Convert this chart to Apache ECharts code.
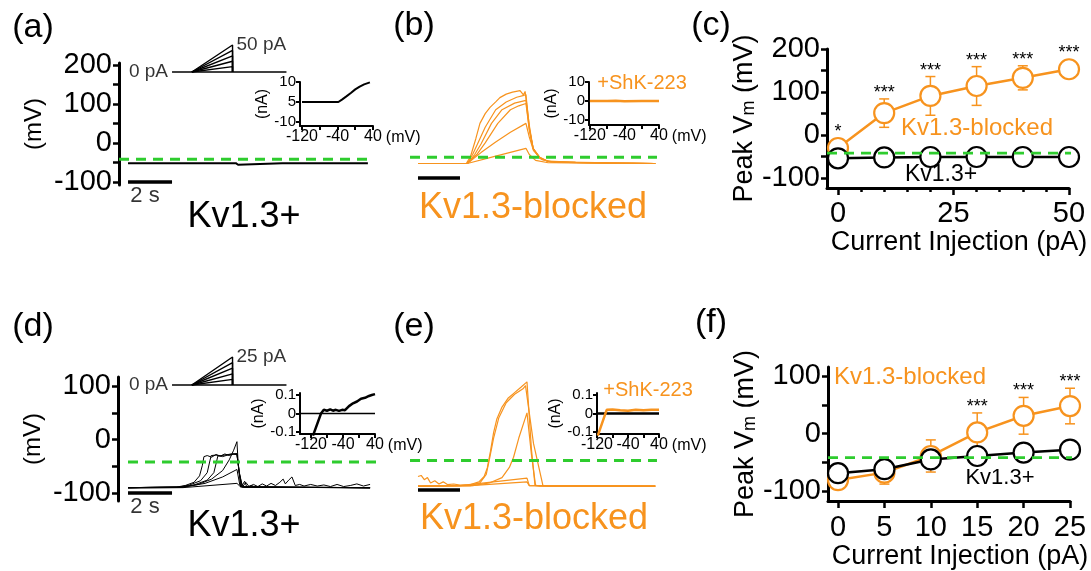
<!DOCTYPE html>
<html><head><meta charset="utf-8">
<script src="https://cdn.jsdelivr.net/npm/echarts@6/dist/echarts.min.js"></script>
<style>html,body{margin:0;padding:0;background:#fff}#chart{width:1091px;height:571px}</style>
</head><body><div id="chart"></div>
<script>
// ================= DATA =================
const thresholdMv = -42;
// stimulus schematic (time in s, amplitude in pA)
const stimBaseline = [2.0, 7.2];
const stimRamp = [2.9, 4.75];
const aStimAmps = [10, 20, 30, 40, 50];
const dStimAmps = [5, 10, 15, 20, 25];
const scaleBarS = [0, 2];

// (a) Kv1.3+ voltage trace [s, mV]
const aTrace = [[0,-52],[1.5,-52],[3,-52],[4.9,-52],[5.0,-56],[5.05,-52],[7,-52],[9,-52],[10.9,-52]];
// (a) inset I-V [mV, nA]
const aIV = [[-120,0],[-80,0],[-38,0],[-30,1.2],[-20,2.8],[-10,4.5],[0,6.3],[10,7.7],[20,8.8],[33,9.8]];
const aInsetYTicks = [-10, 0, 10];
const aInsetYTickLabels = ['-10', '5', '10'];

// (b) Kv1.3-blocked traces [s, mV]
const bTrace1 = [[0,-58],[2.3,-58],[2.5,-40],[2.75,5],[2.95,45],[3.2,70],[3.43,86],[3.7,100],[3.9,111],[4.2,120],[4.5,125],[4.86,129],[4.95,126],[5.02,118],[5.1,127],[5.16,124],[5.3,40],[5.48,-19],[5.8,-42],[6.2,-52],[7.5,-55],[9,-57],[11.3,-58]];
const bTrace2 = [[0,-58],[2.35,-58],[2.6,-35],[2.8,-12],[3.2,35],[3.7,80],[4.2,100],[4.7,112],[5.0,116],[5.14,119],[5.3,35],[5.48,-19],[5.8,-43],[6.2,-53],[7.5,-55],[9,-57],[11.3,-58]];
const bTrace3 = [[0,-58],[2.35,-58],[2.7,-35],[3.0,-8],[3.5,45],[4.0,80],[4.6,97],[5.14,104],[5.3,30],[5.48,-20],[5.8,-44],[6.2,-53],[7.5,-56],[11.3,-58]];
const bTrace4 = [[0,-58],[2.35,-58],[2.8,-35],[3.2,-5],[3.8,45],[4.4,80],[4.8,90],[5.14,96],[5.3,28],[5.5,-22],[5.8,-45],[6.3,-54],[11.3,-58]];
const bTrace5 = [[0,-58],[2.35,-58],[3.0,-30],[3.7,-3],[4.4,22],[5.14,45],[5.3,10],[5.5,-25],[5.9,-48],[6.5,-55],[11.3,-58]];
const bTrace6 = [[0,-58],[2.35,-58],[3.7,-39],[5.14,-19],[5.3,-35],[5.6,-50],[6.2,-56],[11.3,-58]];
const bIV = [[-120,0],[-80,0],[-60,0.1],[-40,-0.1],[0,0],[40,0]];

// (c) Peak Vm vs current injection
const cCurrents = [0, 10, 20, 30, 40, 50];
const cBlockedMean = [-30, 51, 91, 114, 133, 153];
const cBlockedErr = [8, 33, 45, 45, 28, 8];
const cPlusMean = [-54, -52, -51, -51, -51, -51];
const cPlusErr = [5, 4, 4, 4, 4, 4];
const cStars = ['*', '***', '***', '***', '***', '***'];
const cXTickLabels = [0, 25, 50];
const cXMinorTicks = [5, 10, 15, 20, 30, 35, 40, 45];
const cYTicks = [-100, -50, 0, 50, 100, 150, 200];
const cYTickLabels = [-100, 0, 100, 200];

// (d) Kv1.3+ traces [s, mV]
const dTrace1 = [[0,-90],[2.2,-89],[2.6,-86],[3.0,-80],[3.25,-68],[3.38,-48],[3.45,-32],[3.6,-30],[3.8,-33],[4.0,-28],[4.2,-31],[4.4,-27],[4.6,-30],[4.8,-27],[4.95,-28],[5.05,-60],[5.15,-88],[5.3,-78],[5.4,-89],[5.6,-86],[5.8,-89],[11,-90]];
const dTrace2 = [[0,-90],[2.3,-89],[2.8,-85],[3.3,-77],[3.6,-62],[3.72,-40],[3.78,-30],[4.0,-29],[4.3,-32],[4.6,-28],[4.95,-26],[5.05,-62],[5.2,-89],[11,-90]];
const dTrace3 = [[0,-90],[2.4,-89],[3.0,-85],[3.6,-76],[3.9,-62],[4.02,-42],[4.08,-31],[4.4,-29],[4.7,-27],[4.95,-28],[5.05,-60],[5.2,-89],[11,-90]];
const dTrace4 = [[0,-90],[2.5,-89],[3.2,-84],[3.8,-74],[4.3,-58],[4.6,-38],[4.8,-20],[4.95,-4],[5.0,-40],[5.12,-89],[11,-90]];
const dTrace5 = [[0,-90],[2.5,-89],[3.5,-82],[4.3,-70],[4.95,-56],[5.08,-85],[5.3,-89],[11,-90]];
const dTrace6 = [[0,-91],[2.5,-90],[4.95,-82],[5.1,-88],[11,-91]];
const dTraceNoise = [[5.2,-89],[5.35,-80],[5.5,-88],[5.7,-84],[5.9,-88],[6.1,-83],[6.3,-87],[6.5,-82],[6.7,-86],[6.9,-80],[7.05,-74],[7.15,-83],[7.3,-76],[7.45,-70],[7.6,-86],[7.8,-84],[8.0,-87],[8.3,-84],[8.6,-87],[8.9,-85],[9.2,-88],[9.5,-84],[9.8,-88],[10.1,-86],[10.4,-83],[10.7,-87],[11,-84]];
const dIV = [[-115,-0.12],[-95,0],[-88,0.02],[-80,0.015],[-72,0.022],[-65,0.015],[-58,0.02],[-50,0.014],[-42,0.02],[-35,0.018],[-25,0.04],[-15,0.055],[-5,0.065],[5,0.08],[15,0.085],[25,0.095],[32,0.1],[40,0.105]];
const dZero = [[-147,0],[40,0]];

// (e) Kv1.3-blocked traces [s, mV]
const eTrace1 = [[0,-72],[0.15,-70],[0.3,-78],[0.45,-74],[0.6,-84],[0.8,-80],[1.0,-86],[1.2,-82],[1.4,-87],[1.7,-86],[2.0,-88],[2.5,-87],[2.9,-82],[3.15,-72],[3.3,-56],[3.45,-25],[3.6,10],[3.75,35],[4.0,58],[4.3,75],[4.6,85],[4.9,95],[5.19,105],[5.4,-20],[5.57,-88],[5.8,-90],[11.3,-90]];
const eTrace2 = [[0,-90],[2.5,-89],[2.95,-84],[3.25,-68],[3.4,-40],[3.6,0],[3.85,38],[4.2,66],[4.6,82],[5.0,92],[5.12,98],[5.5,-10],[5.95,-89],[6.2,-90],[11.3,-90]];
const eTrace3 = [[0,-90],[2.6,-89],[3.4,-84],[4.0,-74],[4.35,-55],[4.55,-36],[4.8,0],[5.19,47],[5.4,-30],[5.6,-89],[11.3,-90]];
const eTrace4 = [[0,-90],[2.0,-89],[5.19,-75],[5.3,-89],[11.3,-90]];
const eTrace5 = [[0,-90],[2.5,-89],[5.19,-82],[5.3,-89],[11.3,-90]];
const eIV = [[-118,-0.12],[-95,0.02],[-80,0.022],[-60,0.018],[-40,0.015],[-20,0.02],[0,0.018],[20,0.02],[40,0.02]];
const eZero = [[-120,0],[40,0]];

// (f) Peak Vm vs current injection
const fCurrents = [0, 5, 10, 15, 20, 25];
const fBlockedMean = [-81, -68, -39, 2, 31, 48];
const fBlockedErr = [15, 20, 28, 34, 32, 31];
const fPlusMean = [-69, -62, -45, -39, -33, -28];
const fPlusErr = [6, 6, 5, 4, 4, 4];
const fStars = ['', '', '', '***', '***', '***'];
const fYTicks = [-100, -50, 0, 50, 100];
const fYTickLabels = [-100, 0, 100];

// ================= STYLE / BUILD =================
const FONT = '"Liberation Sans", Arial, Helvetica, sans-serif';
const ORANGE = '#F7931E';
const GREEN = '#2ECC2E';
const BLACK = '#000';
const TICKFS = 29;

function hiddenAxis(gridIndex, min, max) {
  return {type: 'value', gridIndex, min, max, show: false, splitLine: {show: false}};
}
function visAxis(o) {
  return {
    type: 'value', gridIndex: o.grid, min: o.min, max: o.max, position: o.position,
    axisLine: {show: o.line !== false, onZero: false, lineStyle: {color: BLACK, width: o.lw || 3}},
    axisTick: {show: true, customValues: o.ticks, length: o.tickLen || 6, lineStyle: {color: BLACK, width: o.tw || 2.5}},
    axisLabel: o.labels ? {show: true, customValues: o.labels, fontSize: o.fs || TICKFS, color: BLACK, fontFamily: FONT, margin: o.margin || 7, formatter: o.formatter} : {show: false},
    splitLine: {show: false},
    name: o.name || '', nameLocation: o.nameLocation || 'middle', nameGap: o.nameGap || 0, nameRotate: o.nameRotate,
    nameTextStyle: Object.assign({fontSize: 24, color: BLACK, fontFamily: FONT}, o.nameStyle || {})
  };
}
function trace(data, xi, yi, color, width, z) {
  return {type: 'line', data, xAxisIndex: xi, yAxisIndex: yi, symbol: 'none', silent: true, clip: false,
    lineStyle: {color, width}, z: z || 2, animation: false};
}
function thresholdLine(x0, x1, xi, yi) {
  return {type: 'line', data: [[x0, thresholdMv], [x1, thresholdMv]], xAxisIndex: xi, yAxisIndex: yi, symbol: 'none', clip: false, silent: true,
    lineStyle: {color: GREEN, width: 2.8, type: [10, 7]}, z: 6};
}
function textPoint(x, y, text, xi, yi, pos, fs, offset) {
  return {type: 'scatter', xAxisIndex: xi, yAxisIndex: yi, symbolSize: 0, silent: true, z: 5,
    data: [[x, y]], label: {show: true, formatter: text, position: pos, distance: 3, offset: offset || [0, 0], fontSize: fs, color: BLACK, fontFamily: FONT}};
}
function stimSeries(amps, xi, yi, topText) {
  const out = [trace([[stimBaseline[0], 0], [stimBaseline[1], 0]], xi, yi, BLACK, 1.6)];
  amps.forEach(a => out.push(trace([[stimRamp[0], 0], [stimRamp[1], a], [stimRamp[1], 0]], xi, yi, BLACK, 1.4)));
  out.push(textPoint(stimBaseline[0], 0, '0 pA', xi, yi, 'left', 19, [-1, 0]));
  out.push(textPoint(stimRamp[1], amps[amps.length - 1], topText, xi, yi, 'right', 19, [1, 0]));
  return out;
}
function errorBars(xs, means, errs, color, xi, yi) {
  return {type: 'custom', xAxisIndex: xi, yAxisIndex: yi, z: 1, silent: true,
    data: xs.map((x, i) => [x, means[i], errs[i]]),
    renderItem: function (params, api) {
      const x = api.value(0), m = api.value(1), e = api.value(2);
      const t = api.coord([x, m + e]), b = api.coord([x, m - e]);
      const cap = 5, st = {stroke: color, lineWidth: 1.5};
      return {type: 'group', children: [
        {type: 'line', shape: {x1: t[0], y1: t[1], x2: b[0], y2: b[1]}, style: st},
        {type: 'line', shape: {x1: t[0] - cap, y1: t[1], x2: t[0] + cap, y2: t[1]}, style: st},
        {type: 'line', shape: {x1: b[0] - cap, y1: b[1], x2: b[0] + cap, y2: b[1]}, style: st}
      ]};
    }};
}
function starSeries(xs, means, errs, stars, xi, yi) {
  return {type: 'custom', xAxisIndex: xi, yAxisIndex: yi, z: 4, silent: true,
    data: xs.map((x, i) => [x, means[i], errs[i]]),
    renderItem: function (params, api) {
      const x = api.value(0), m = api.value(1), e = api.value(2);
      const t = api.coord([x, m + e]), c = api.coord([x, m]);
      const anchor = Math.min(t[1], c[1] - 10);
      return {type: 'text', x: t[0], y: anchor + 3, style: {text: stars[params.dataIndex], textAlign: 'center', textVerticalAlign: 'bottom', fontSize: 18, fontFamily: FONT, fill: BLACK}};
    }};
}
function meanLine(xs, means, color, xi, yi, z) {
  return {type: 'line', xAxisIndex: xi, yAxisIndex: yi, z, silent: true,
    data: xs.map((x, i) => [x, means[i]]), symbol: 'circle', symbolSize: 20, showSymbol: true,
    lineStyle: {color, width: 2.5}, itemStyle: {color: '#fff', borderColor: color, borderWidth: 2.2}};
}
function gtext(text, x, y, size, color, extra) {
  return Object.assign({type: 'text', x, y, silent: true, style: {text, fontSize: size, fontFamily: FONT, fill: color || BLACK, textAlign: 'center', textVerticalAlign: 'middle'}}, extra || {});
}

const grids = [
  {left: 119, top: 63, width: 259, height: 122},   // 0 a main
  {left: 119, top: 45, width: 259, height: 27},    // 1 a stim
  {left: 300, top: 82, width: 73, height: 44},     // 2 a inset
  {left: 408, top: 61, width: 252, height: 122},   // 3 b main
  {left: 589, top: 82, width: 70, height: 43},     // 4 b inset
  {left: 827, top: 49, width: 242, height: 139},   // 5 c
  {left: 118, top: 377, width: 260, height: 124},  // 6 d main
  {left: 118, top: 357, width: 260, height: 28},   // 7 d stim
  {left: 300, top: 393, width: 75, height: 41},    // 8 d inset
  {left: 408, top: 375.5, width: 252, height: 124},// 9 e main
  {left: 597, top: 393, width: 62, height: 41},    // 10 e inset
  {left: 828, top: 367, width: 242, height: 139}   // 11 f
];

const insetX = (grid, min, ticks) => visAxis({grid, min, max: 40, ticks, labels: [-120, -40, 40], fs: 16, margin: 3, lw: 2, tw: 2, tickLen: 4,
  position: 'bottom', name: '(mV)', nameLocation: 'end', nameGap: 3, nameStyle: {fontSize: 16, verticalAlign: 'top', padding: [4, 0, 0, 0]}});

const xAxes = [
  hiddenAxis(0, -0.41, 11.36),                                   // 0
  hiddenAxis(1, -0.41, 11.36),                                   // 1
  insetX(2, -124.5, [-120, -80, -40, 0, 40]),                    // 2
  hiddenAxis(3, -0.476, 11.524),                                 // 3
  insetX(4, -122, [-120, -80, -40, 0, 40]),                      // 4
  visAxis({grid: 5, min: -2.38, max: 50, position: 'bottom', ticks: cXTickLabels, labels: cXTickLabels, tickLen: 7, margin: 11,
    name: 'Current Injection (pA)', nameGap: 36, nameStyle: {fontSize: 27, padding: [0, 0, 0, 22]}}), // 5
  visAxis({grid: 5, min: -2.38, max: 50, position: 'bottom', ticks: cXMinorTicks, line: false, tickLen: 4}), // 6
  hiddenAxis(6, -0.455, 11.36),                                  // 7
  hiddenAxis(7, -0.455, 11.36),                                  // 8
  insetX(8, -147.5, [-120, -80, -40, 0, 40]),                    // 9
  hiddenAxis(9, -0.476, 11.524),                                 // 10
  insetX(10, -120, [-120, -80, -40, 0, 40]),                     // 11
  visAxis({grid: 11, min: -1.08, max: 25, position: 'bottom', ticks: fCurrents, labels: fCurrents, tickLen: 7, margin: 12,
    name: 'Current Injection (pA)', nameGap: 37, nameStyle: {fontSize: 27, padding: [0, 0, 0, 22]}})   // 12
];

const peakName = '{a|Peak V}{s|m}{a| (mV)}';
const peakRich = {a: {fontSize: 27, fontFamily: FONT, color: BLACK}, s: {fontSize: 18, fontFamily: FONT, color: BLACK, padding: [8, 0, 0, 0]}};

const yAxes = [
  visAxis({grid: 0, min: -108, max: 205, position: 'left', ticks: cYTicks, labels: cYTickLabels, name: '(mV)', nameRotate: 90, nameGap: 73}), // 0
  hiddenAxis(1, 0, 50),                                                                         // 1
  visAxis({grid: 2, min: -12, max: 10, position: 'left', ticks: aInsetYTicks, labels: aInsetYTicks, fs: 15, margin: 4, lw: 2, tw: 2, tickLen: 4,
    formatter: v => aInsetYTickLabels[aInsetYTicks.indexOf(v)], name: '(nA)', nameRotate: 90, nameGap: 21, nameStyle: {fontSize: 16}}), // 2
  hiddenAxis(3, -108, 205),                                                                     // 3
  visAxis({grid: 4, min: -12.6, max: 10, position: 'left', ticks: [-10, 0, 10], labels: [-10, 0, 10], fs: 15, margin: 4, lw: 2, tw: 2, tickLen: 4,
    name: '(nA)', nameRotate: 90, nameGap: 21, nameStyle: {fontSize: 16}}),                      // 4
  visAxis({grid: 5, min: -123, max: 200, position: 'left', ticks: cYTicks, labels: cYTickLabels, name: peakName, nameRotate: 90, nameGap: 55,
    nameStyle: {rich: peakRich}}),                                                              // 5
  visAxis({grid: 6, min: -115, max: 117, position: 'left', ticks: fYTicks, labels: fYTickLabels, name: '(mV)', nameRotate: 90, nameGap: 73}), // 6
  hiddenAxis(7, 0, 25),                                                                         // 7
  visAxis({grid: 8, min: -0.111, max: 0.111, position: 'left', ticks: [-0.1, 0, 0.1], labels: [-0.1, 0, 0.1], fs: 15, margin: 4, lw: 2, tw: 2, tickLen: 4,
    name: '(nA)', nameRotate: 90, nameGap: 26, nameStyle: {fontSize: 16}}),                      // 8
  hiddenAxis(9, -115, 117),                                                                     // 9
  visAxis({grid: 10, min: -0.111, max: 0.111, position: 'left', ticks: [-0.1, 0, 0.1], labels: [-0.1, 0, 0.1], fs: 15, margin: 4, lw: 2, tw: 2, tickLen: 4,
    name: '(nA)', nameRotate: 90, nameGap: 26, nameStyle: {fontSize: 16}}),                      // 10
  visAxis({grid: 11, min: -117.6, max: 116, position: 'left', ticks: fYTicks, labels: fYTickLabels, name: peakName, nameRotate: 90, nameGap: 55,
    nameStyle: {rich: peakRich}})                                                               // 11
];

const series = [];
// (a)
series.push(trace(aTrace, 0, 0, BLACK, 2));
series.push(thresholdLine(-0.41, 10.9, 0, 0));
series.push(trace(scaleBarS.map(t => [t, -100]), 0, 0, BLACK, 3.5));
series.push(textPoint(1, -100, '2 s', 0, 0, 'bottom', 22, [-5, 0]));
stimSeries(aStimAmps, 1, 1, '50 pA').forEach(s => series.push(s));
series.push(trace(aIV, 2, 2, BLACK, 2));
// (b)
[bTrace1, bTrace2, bTrace3, bTrace4, bTrace5, bTrace6].forEach(d => series.push(trace(d, 3, 3, ORANGE, 1.2)));
series.push(thresholdLine(-0.38, 11.38, 3, 3));
series.push(trace(scaleBarS.map(t => [t, -95]), 3, 3, BLACK, 3.5));
series.push(trace(bIV, 4, 4, ORANGE, 2.5));
// (c)
series.push(errorBars(cCurrents, cBlockedMean, cBlockedErr, ORANGE, 5, 5));
series.push(errorBars(cCurrents, cPlusMean, cPlusErr, BLACK, 5, 5));
series.push(meanLine(cCurrents, cBlockedMean, ORANGE, 5, 5, 2));
series.push(meanLine(cCurrents, cPlusMean, BLACK, 5, 5, 3));
series.push(thresholdLine(-2.38, 52.4, 5, 5));
series.push(starSeries(cCurrents, cBlockedMean, cBlockedErr, cStars, 5, 5));
// (d)
[dTrace6, dTrace5, dTrace4, dTrace3, dTrace2, dTrace1, dTraceNoise].forEach(d => series.push(trace(d, 7, 6, BLACK, 1)));
series.push(thresholdLine(0, 11.36, 7, 6));
series.push(trace(scaleBarS.map(t => [t, -100]), 7, 6, BLACK, 3.5));
series.push(textPoint(1, -100, '2 s', 7, 6, 'bottom', 22, [-5, 0]));
stimSeries(dStimAmps, 8, 7, '25 pA').forEach(s => series.push(s));
series.push(trace(dZero, 9, 8, BLACK, 1.5));
series.push(trace(dIV, 9, 8, BLACK, 2.5, 3));
// (e)
[eTrace5, eTrace4, eTrace3, eTrace2, eTrace1].forEach(d => series.push(trace(d, 10, 9, ORANGE, 1.2)));
series.push(thresholdLine(-0.38, 11.38, 10, 9));
series.push(trace(scaleBarS.map(t => [t, -97]), 10, 9, BLACK, 3.5));
series.push(trace(eZero, 11, 10, BLACK, 2.5));
series.push(trace(eIV, 11, 10, ORANGE, 2.5, 3));
// (f)
series.push(errorBars(fCurrents, fBlockedMean, fBlockedErr, ORANGE, 12, 11));
series.push(errorBars(fCurrents, fPlusMean, fPlusErr, BLACK, 12, 11));
series.push(meanLine(fCurrents, fBlockedMean, ORANGE, 12, 11, 2));
series.push(meanLine(fCurrents, fPlusMean, BLACK, 12, 11, 3));
series.push(thresholdLine(-1.08, 25.9, 12, 11));
series.push(starSeries(fCurrents, fBlockedMean, fBlockedErr, fStars, 12, 11));

const graphic = [
  gtext('(a)', 33, 28, 34), gtext('(b)', 414, 26, 34), gtext('(c)', 711, 26, 34),
  gtext('(d)', 33, 327, 34), gtext('(e)', 414, 327, 34), gtext('(f)', 711, 323, 34),
  gtext('Kv1.3+', 244, 217, 36), gtext('Kv1.3+', 244, 526, 36),
  gtext('Kv1.3-blocked', 533, 208, 36, ORANGE), gtext('Kv1.3-blocked', 534, 519, 36, ORANGE),
  gtext('Kv1.3-blocked', 977, 128, 24, ORANGE), gtext('Kv1.3+', 941, 175, 23),
  gtext('Kv1.3-blocked', 910, 377, 24, ORANGE), gtext('Kv1.3+', 1000, 478, 22),
  gtext('+ShK-223', 642, 83, 20, ORANGE), gtext('+ShK-223', 648, 390, 20, ORANGE)
];

const chart = echarts.init(document.getElementById('chart'), null, {renderer: 'canvas'});
chart.setOption({
  animation: false,
  backgroundColor: '#fff',
  textStyle: {fontFamily: FONT, color: BLACK},
  grid: grids,
  xAxis: xAxes,
  yAxis: yAxes,
  graphic,
  series
});
</script></body></html>
